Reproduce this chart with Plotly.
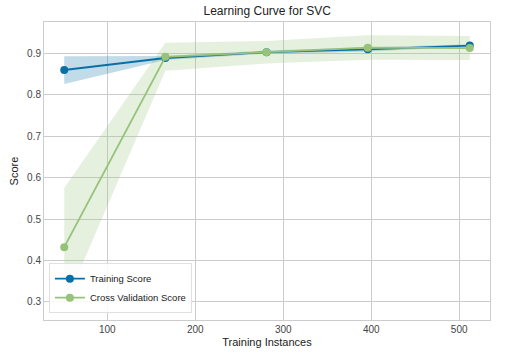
import plotly.graph_objects as go

train_sizes = [51, 166, 281, 396, 512]
train_mean = [0.860, 0.889, 0.903, 0.910, 0.919]
train_upper = [0.893, 0.894, 0.907, 0.915, 0.922]
train_lower = [0.826, 0.884, 0.899, 0.905, 0.916]
cv_mean = [0.432, 0.892, 0.903, 0.914, 0.913]
cv_upper = [0.575, 0.926, 0.930, 0.944, 0.942]
cv_lower = [0.289, 0.858, 0.876, 0.885, 0.884]

xticks = [100, 200, 300, 400, 500]
yticks = [0.3, 0.4, 0.5, 0.6, 0.7, 0.8, 0.9]

blue = "#0a6fa5"
green = "#97c27a"

fig = go.Figure()
fig.add_trace(go.Scatter(
    x=train_sizes + train_sizes[::-1], y=train_upper + train_lower[::-1],
    fill="toself", fillcolor="rgba(10,111,165,0.25)", line=dict(width=0),
    mode="lines", hoverinfo="skip", showlegend=False))
fig.add_trace(go.Scatter(
    x=train_sizes + train_sizes[::-1], y=cv_upper + cv_lower[::-1],
    fill="toself", fillcolor="rgba(151,194,122,0.25)", line=dict(width=0),
    mode="lines", hoverinfo="skip", showlegend=False))
fig.add_trace(go.Scatter(
    x=train_sizes, y=train_mean, mode="lines+markers", name="Training Score",
    line=dict(color=blue, width=1.8), marker=dict(color=blue, size=8)))
fig.add_trace(go.Scatter(
    x=train_sizes, y=cv_mean, mode="lines+markers", name="Cross Validation Score",
    line=dict(color=green, width=1.8), marker=dict(color=green, size=8)))

font_family = "Liberation Sans, Arial, sans-serif"
fig.update_layout(
    width=507, height=359,
    margin=dict(l=44, r=17, t=22, b=39, autoexpand=False),
    paper_bgcolor="white", plot_bgcolor="white",
    font=dict(family=font_family, size=10, color="#333333"),
    title=dict(text="Learning Curve for SVC", x=0.527,
               xanchor="center", y=1 - 11 / 359, yanchor="middle",
               font=dict(size=12, color="#222222")),
    xaxis=dict(range=[28, 535], tickvals=xticks, ticktext=[str(v) for v in xticks],
               automargin=False,
               showgrid=True, gridcolor="#cccccc", gridwidth=1,
               showline=True, linecolor="#cccccc", linewidth=1, mirror=True,
               zeroline=False, ticks="", ticklen=0,
               title=dict(text="Training Instances", font=dict(size=11, color="#222222"), standoff=4),
               tickfont=dict(size=10, color="#444444")),
    yaxis=dict(range=[0.256, 0.976], tickvals=yticks, ticktext=[f"{v:.1f}" for v in yticks],
               automargin=False,
               showgrid=True, gridcolor="#cccccc", gridwidth=1,
               showline=True, linecolor="#cccccc", linewidth=1, mirror=True,
               zeroline=False, ticks="", ticklen=0,
               title=dict(text="Score", font=dict(size=11, color="#222222"), standoff=6),
               tickfont=dict(size=10, color="#444444")),
    legend=dict(x=0.011, y=0.023, xanchor="left", yanchor="bottom",
                bgcolor="rgba(255,255,255,0.85)", bordercolor="#e0e0e0", borderwidth=1,
                font=dict(size=9.5, color="#222222"), itemwidth=30, tracegroupgap=0),
    showlegend=True,
)

fig.write_html("out.html", config={"displayModeBar": False},
               post_script="document.body.style.margin='0';")
